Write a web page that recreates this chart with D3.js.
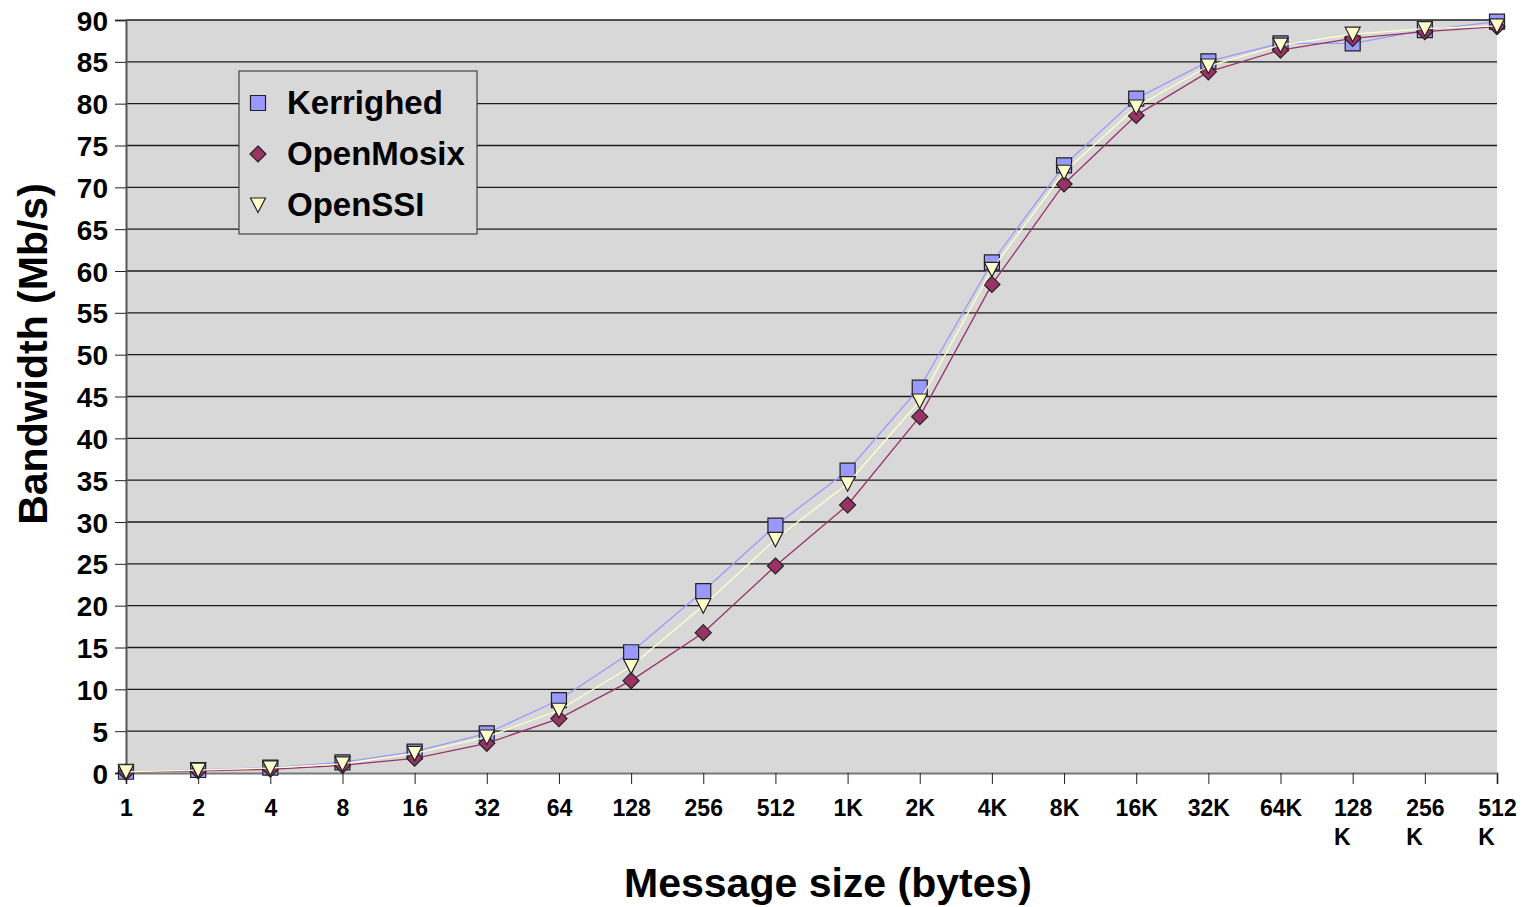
<!DOCTYPE html>
<html>
<head>
<meta charset="utf-8">
<script src="https://cdn.jsdelivr.net/npm/d3@7"></script>
<style>
  html, body { margin: 0; padding: 0; background: #ffffff; }
  svg { display: block; }
  text { font-family: "Liberation Sans", Arial, sans-serif; font-weight: bold; fill: #000; }
</style>
</head>
<body>
<svg id="chart" width="1524" height="907"></svg>
<script>
// ---- data ----
const categories = ["1","2","4","8","16","32","64","128","256","512","1K","2K","4K","8K","16K","32K","64K","128\nK","256\nK","512\nK"];
const kerrighed = [0.15,0.36,0.64,1.27,2.55,4.74,8.72,14.43,21.75,29.56,36.13,46.05,61.03,72.63,80.6,85.06,87.2,87.2,88.8,89.8];
const openMosix = [0.1,0.25,0.45,0.92,1.76,3.55,6.5,11.04,16.77,24.74,32.03,42.59,58.4,70.4,78.6,83.8,86.4,87.8,88.6,89.2];
const openSSI   = [0.15,0.35,0.6,1.1,2.35,4.3,7.5,12.75,20.0,27.93,34.58,44.46,60.2,71.8,79.6,84.5,87.0,88.3,88.96,89.3];
const seriesNames = ["Kerrighed","OpenMosix","OpenSSI"];
const yTicks = [0,5,10,15,20,25,30,35,40,45,50,55,60,65,70,75,80,85,90];
const xTitle = "Message size (bytes)";
const yTitle = "Bandwidth (Mb/s)";

// ---- layout ----
const svg = d3.select("#chart");
const pLeft = 126, pRight = 1497, pTop = 20, pBottom = 773;
const x = d3.scalePoint().domain(categories).range([pLeft, pRight]);
const y = d3.scaleLinear().domain([0, 90]).range([pBottom, pTop]);

const styles = [
  { name: seriesNames[0], data: kerrighed, line: "#9999ff", fill: "#9999ff", shape: "square" },
  { name: seriesNames[1], data: openMosix, line: "#993366", fill: "#993366", shape: "diamond" },
  { name: seriesNames[2], data: openSSI,   line: "#ffffcc", fill: "#ffffcc", shape: "triangle" }
];

function markerPath(shape) {
  if (shape === "square") return "M-7.5,-7.5H7.5V7.5H-7.5Z";
  if (shape === "diamond") return "M0,-8L8,0L0,8L-8,0Z";
  return "M-7.5,-7L7.5,-7L0,7.5Z";
}

// plot background
svg.append("rect").attr("x", pLeft).attr("y", pTop)
  .attr("width", pRight - pLeft).attr("height", pBottom - pTop)
  .attr("fill", "#d8d8d8");

// gridlines
svg.append("g").selectAll("line").data(yTicks.filter(d => d > 0)).join("line")
  .attr("x1", pLeft).attr("x2", pRight)
  .attr("y1", d => y(d)).attr("y2", d => y(d))
  .attr("stroke", "#1a1a1a").attr("stroke-width", 1.3);

// y axis
const yAxis = d3.axisLeft(y).tickValues(yTicks).tickSize(11).tickPadding(7).tickFormat(d3.format("d"));
const gy = svg.append("g").attr("transform", `translate(${pLeft},0)`).call(yAxis);
gy.select(".domain").attr("stroke", "#555").attr("stroke-width", 2);
gy.selectAll(".tick line").attr("stroke", "#222");
gy.selectAll(".tick text").attr("font-size", 28).attr("font-family", "Liberation Sans, Arial, sans-serif")
  .attr("font-weight", "bold").attr("fill", "#000").attr("dy", "0.36em");

// x axis
const xAxis = d3.axisBottom(x).tickSize(11).tickFormat("");
const gx = svg.append("g").attr("transform", `translate(0,${pBottom})`).call(xAxis);
gx.select(".domain").attr("stroke", "#777").attr("stroke-width", 2);
gx.selectAll(".tick line").attr("stroke", "#222");
gx.selectAll(".tick").each(function(d) {
  const lines = d.split("\n");
  const g = d3.select(this);
  const t1 = g.append("text").attr("x", 0).attr("y", 43).attr("text-anchor", "middle")
    .attr("font-size", 23).text(lines[0]);
  if (lines.length > 1) {
    const w = t1.node().getComputedTextLength();
    g.append("text").attr("x", -w / 2).attr("y", 72).attr("text-anchor", "start")
      .attr("font-size", 23).text(lines[1]);
  }
});

// series
styles.forEach(s => {
  const line = d3.line().x((d, i) => x(categories[i])).y(d => y(d));
  svg.append("path").datum(s.data).attr("d", line)
    .attr("fill", "none").attr("stroke", s.line).attr("stroke-width", 1.3);
  svg.append("g").selectAll("path").data(s.data).join("path")
    .attr("transform", (d, i) => `translate(${x(categories[i])},${y(d)})`)
    .attr("d", markerPath(s.shape))
    .attr("fill", s.fill).attr("stroke", "#222").attr("stroke-width", 1.2);
});

// legend
const lg = svg.append("g");
lg.append("rect").attr("x", 239).attr("y", 71).attr("width", 238).attr("height", 163)
  .attr("fill", "#d8d8d8").attr("stroke", "#444").attr("stroke-width", 1.2);
styles.forEach((s, i) => {
  const cy = 103 + i * 51;
  lg.append("path").attr("transform", `translate(258,${cy})`).attr("d", markerPath(s.shape))
    .attr("fill", s.fill).attr("stroke", "#222").attr("stroke-width", 1.2);
  lg.append("text").attr("x", 287).attr("y", cy + 11).attr("font-size", 33).text(s.name);
});

// axis titles
svg.append("text").attr("x", 828).attr("y", 897).attr("text-anchor", "middle")
  .attr("font-size", 41).text(xTitle);
svg.append("text").attr("transform", "translate(47,354) rotate(-90)").attr("text-anchor", "middle")
  .attr("font-size", 41).text(yTitle);
</script>
</body>
</html>
